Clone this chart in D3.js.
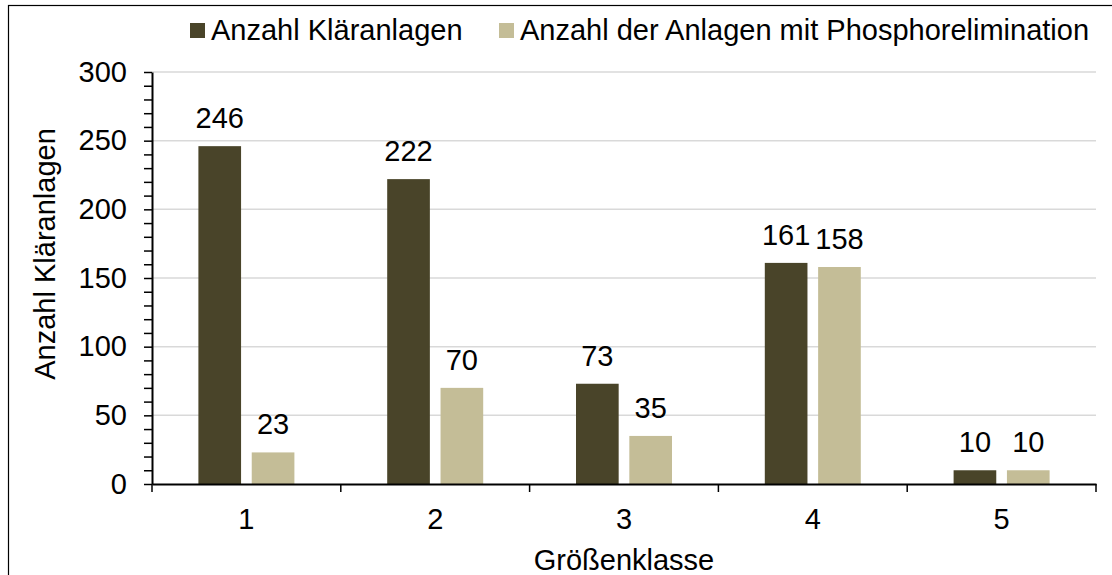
<!DOCTYPE html>
<html>
<head>
<meta charset="utf-8">
<script src="https://cdn.jsdelivr.net/npm/d3@7"></script>
<style>
  body { margin: 0; background: #fff; }
  svg { display: block; font-family: 'Liberation Sans', Arial, sans-serif; }
</style>
</head>
<body>
<svg id="chart"></svg>
<script>
// DATA
const categories = ['1', '2', '3', '4', '5']
const seriesNames = ['Anzahl Kläranlagen', 'Anzahl der Anlagen mit Phosphorelimination']
const anzahl = [246, 222, 73, 161, 10]
const phosphor = [23, 70, 35, 158, 10]
const yTicks = [0, 50, 100, 150, 200, 250, 300]

const colors = ['#494429', '#c4bd97']
const fontSize = 29

// MARGIN CONVENTION
const totalWidth = 1112,
  totalHeight = 575,
  margin = { left: 152, top: 72, right: 16, bottom: 91 },
  width = totalWidth - margin.left - margin.right,
  height = totalHeight - margin.top - margin.bottom

const svg = d3.select('#chart')
  .attr('width', totalWidth)
  .attr('height', totalHeight)

// outer frame (cut off at right and bottom)
svg.append('rect')
  .attr('x', 8.5).attr('y', 5.5)
  .attr('width', 1200).attr('height', 700)
  .attr('fill', 'none')
  .attr('stroke', '#000')
  .attr('stroke-width', 1.2)

const plot = svg.append('g')
  .attr('transform', `translate(${margin.left}, ${margin.top})`)

// SCALES
const x = d3.scaleBand().domain(categories).range([0, width])
const x1 = d3.scaleBand().domain(d3.range(seriesNames.length)).range([-48, 48]).paddingInner(0.2)
const y = d3.scaleLinear().domain([0, 300]).range([height, 0])

// GRIDLINES
plot.append('g')
  .selectAll('line')
  .data(yTicks.filter(d => d > 0))
  .enter().append('line')
    .attr('x1', 0).attr('x2', width)
    .attr('y1', d => y(d)).attr('y2', d => y(d))
    .attr('stroke', '#d9d9d9')
    .attr('stroke-width', 1.5)

// BARS
const rows = categories.map((c, i) => ({ cat: c, values: [anzahl[i], phosphor[i]] }))
const groups = plot.selectAll('.grp')
  .data(rows)
  .enter().append('g')
    .attr('transform', d => `translate(${x(d.cat) + x.bandwidth() / 2}, 0)`)

groups.selectAll('rect')
  .data(d => d.values.map((v, k) => ({ v, k })))
  .enter().append('rect')
    .attr('x', d => x1(d.k))
    .attr('width', x1.bandwidth())
    .attr('y', d => y(d.v))
    .attr('height', d => height - y(d.v))
    .attr('fill', d => colors[d.k])

groups.selectAll('text')
  .data(d => d.values.map((v, k) => ({ v, k })))
  .enter().append('text')
    .attr('x', d => x1(d.k) + x1.bandwidth() / 2)
    .attr('y', d => y(d.v) - 18)
    .attr('text-anchor', 'middle')
    .style('font-size', fontSize + 'px')
    .text(d => d.v)

// Y AXIS
const yAxis = d3.axisLeft(y)
  .tickValues(d3.range(0, 301, 10))
  .tickSize(8)
  .tickSizeOuter(0)
  .tickFormat(d => yTicks.includes(d) ? d : '')
const gy = plot.append('g').call(yAxis)
gy.select('.domain').attr('stroke-width', 2)
gy.selectAll('.tick line').attr('stroke-width', 1.5)
gy.selectAll('.tick text')
  .attr('x', -25)
  .style('font-size', fontSize + 'px')
  .attr('fill', '#000')

// X AXIS
const xAxis = d3.axisBottom(x).tickSize(0).tickSizeOuter(0)
const gx = plot.append('g')
  .attr('transform', `translate(0, ${height})`)
  .call(xAxis)
gx.select('.domain').attr('stroke-width', 2)
gx.selectAll('.tick text')
  .attr('y', 24)
  .style('font-size', fontSize + 'px')
  .attr('fill', '#000')

// category boundary ticks
gx.selectAll('.sep')
  .data(categories.concat(['end']))
  .enter().append('line')
    .attr('x1', (d, i) => i * x.step())
    .attr('x2', (d, i) => i * x.step())
    .attr('y1', 0).attr('y2', 8)
    .attr('stroke', '#000')
    .attr('stroke-width', 1.5)

// AXIS TITLES
svg.append('text')
  .attr('x', margin.left + width / 2)
  .attr('y', 570)
  .attr('text-anchor', 'middle')
  .style('font-size', fontSize + 'px')
  .text('Größenklasse')

svg.append('text')
  .attr('transform', 'translate(55, 254) rotate(-90)')
  .attr('text-anchor', 'middle')
  .style('font-size', fontSize + 'px')
  .text('Anzahl Kläranlagen')

// LEGEND
const legendX = [190, 499]
const legend = svg.selectAll('.leg')
  .data(seriesNames)
  .enter().append('g')
    .attr('transform', (d, i) => `translate(${legendX[i]}, 23)`)
legend.append('rect')
  .attr('width', 15).attr('height', 15)
  .attr('fill', (d, i) => colors[i])
legend.append('text')
  .attr('x', 21).attr('y', 17)
  .style('font-size', fontSize + 'px')
  .text(d => d)
</script>
</body>
</html>
